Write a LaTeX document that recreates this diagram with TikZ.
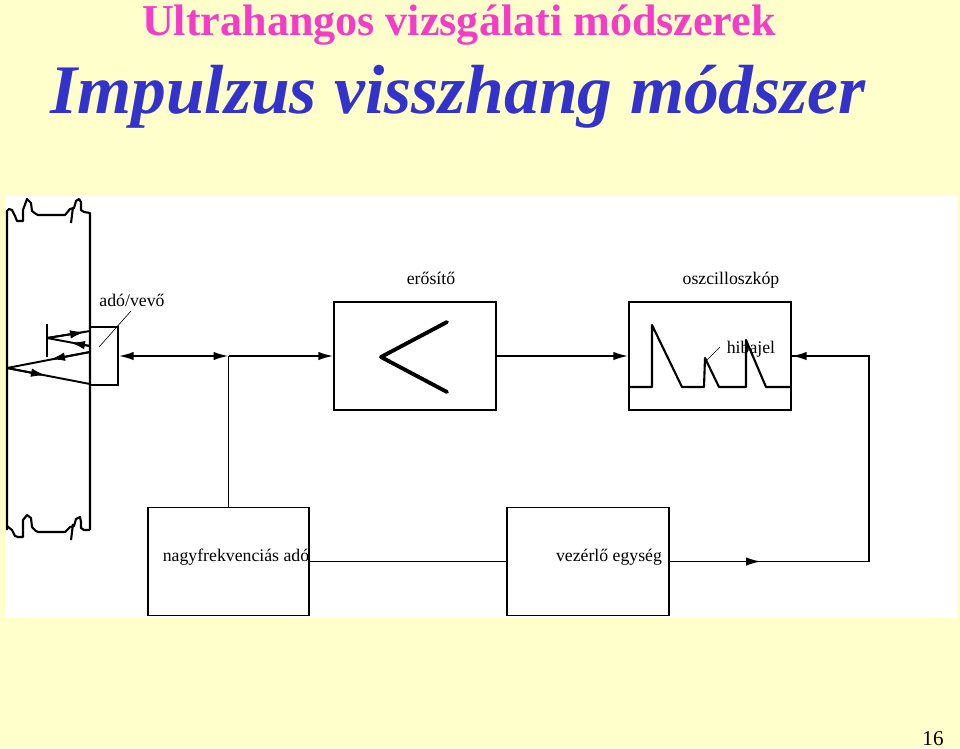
\documentclass[tikz,border=0pt]{standalone}
\usepackage{fontspec}
\setmainfont{Liberation Serif}
\usetikzlibrary{arrows.meta}
\definecolor{slidebg}{HTML}{FFFFCC}
\definecolor{titlepink}{HTML}{F53CC8}
\definecolor{titleblue}{HTML}{3333CC}
\tikzset{
  unit/.style={draw,line width=1.1pt,inner sep=0pt,minimum width=3.23cm,minimum height=2.16cm},
  wire/.style={line width=1.1pt,>={Latex[length=0.3cm,width=0.17cm]}},
  plate/.style={line width=1.2pt,line join=round},
  label/.style={anchor=base,inner sep=0pt,font=\fontsize{10.1}{12}\selectfont},
  thinline/.style={line width=0.35pt}
}
\begin{document}
\begin{tikzpicture}[x=0.02cm,y=-0.02cm]
      \useasboundingbox[fill=slidebg] (0,0) rectangle (960,748);
      \fill[white] (5,196) rectangle (957,618);

      \node[anchor=base,inner sep=0pt,text=titlepink,font=\fontsize{25.1}{28}\selectfont\bfseries] (title) at (459,35) {Ultrahangos vizsgálati módszerek};
      \node[anchor=base,inner sep=0pt,text=titleblue,font=\fontsize{39.6}{42}\selectfont\bfseries\itshape] (subtitle) at (458,113) {Impulzus visszhang módszer};
      \node[anchor=base,inner sep=0pt,font=\fontsize{12}{14}\selectfont] (page) at (933,745) {16};

      % workpiece
      \draw[plate] (7,530) -- (7,211) -- (9,209) -- (12,210) -- (15,216) -- (17,221) -- (23,221) -- (23,210) -- (27,199) -- (31,203) -- (32,211) -- (36,214) -- (38,215) -- (65,215) -- (70,209) -- (74,208) -- (76,201) -- (79,199) -- (81,202) -- (81,210) -- (84,212) -- (90,213) -- (90,530);
      \draw[plate] (7,526) -- (12,530) -- (15,536) -- (18,537) -- (23,537) -- (23,520) -- (27,515) -- (31,518) -- (32,527) -- (36,531) -- (38,532) -- (65,532) -- (70,527) -- (74,526) -- (76,519) -- (80,517) -- (81,522) -- (81,528) -- (84,530) -- (90,530);
      \draw[plate] (71,223) -- (73,207);
      \draw[plate] (71,540) -- (73,524);

      \node[unit,minimum width=0.55cm,minimum height=1.16cm] (probe) at (104,356) {};
      \node[unit] (amp) at (415,356) {};
      \node[unit] (scope) at (710,356) {};
      \node[unit] (sender) at (228.5,561.5) {};
      \node[unit] (control) at (588,561.5) {};

      \node[label] (probelabel) at (132,306) {adó/vevő};
      \node[label] (amplabel) at (431,284) {erősítő};
      \node[label] (scopelabel) at (731,284) {oszcilloszkóp};
      \node[label] (faultlabel) at (751,353) {hibajel};
      \node[label] (senderlabel) at (236,561) {nagyfrekvenciás adó};
      \node[label] (controllabel) at (609,561) {vezérlő egység};

      \coordinate (branch) at (228.5,356);
      \coordinate (tip) at (761,561.5);
      \coordinate (corner) at (869,561.5);
      \coordinate (bar) at (47,338);
      \coordinate (back) at (7,368);

      \draw[wire,<->] (probe) -- (branch);
      \draw[wire,->] (branch) -- (amp);
      \draw[wire,->] (amp) -- (scope);
      \draw[wire] (branch) -- (sender);
      \draw[wire] (sender) -- (control);
      \draw[wire] (control) -- (corner) |- (scope.east);
      \draw[wire,->] (control) -- (tip);
      \draw[wire,<-] (scope.east) -- +(16,0);

      % sound paths
      \draw[plate] (47,324) -- (47,357);
      \draw[wire,->] (bar) -- (85,332);
      \draw[wire] (bar) -- (90,331);
      \draw[wire,->] (90,346) -- (70,342.5);
      \draw[wire] (bar) -- (90,346);
      \draw[wire,->] (90,352) -- (50,359.5);
      \draw[wire] (90,352) -- (back);
      \draw[wire,->] (back) -- (46,375.5);
      \draw[wire] (back) -- (90,384);

      \draw[thinline] (131,311) -- (99,347);
      \draw[thinline] (720,347) -- (705,362);

      % amplifier symbol
      \draw[line width=2.2pt,line cap=round,line join=round] (447,322) -- (381,357) -- (447,392);

      % screen trace
      \draw[plate] (629.5,387) -- (652,387) -- (652,325) -- (682,387) -- (704,387) -- (705,358) -- (719,387) -- (746,387) -- (746,340) -- (766,387) -- (791,387);
\end{tikzpicture}
\end{document}
